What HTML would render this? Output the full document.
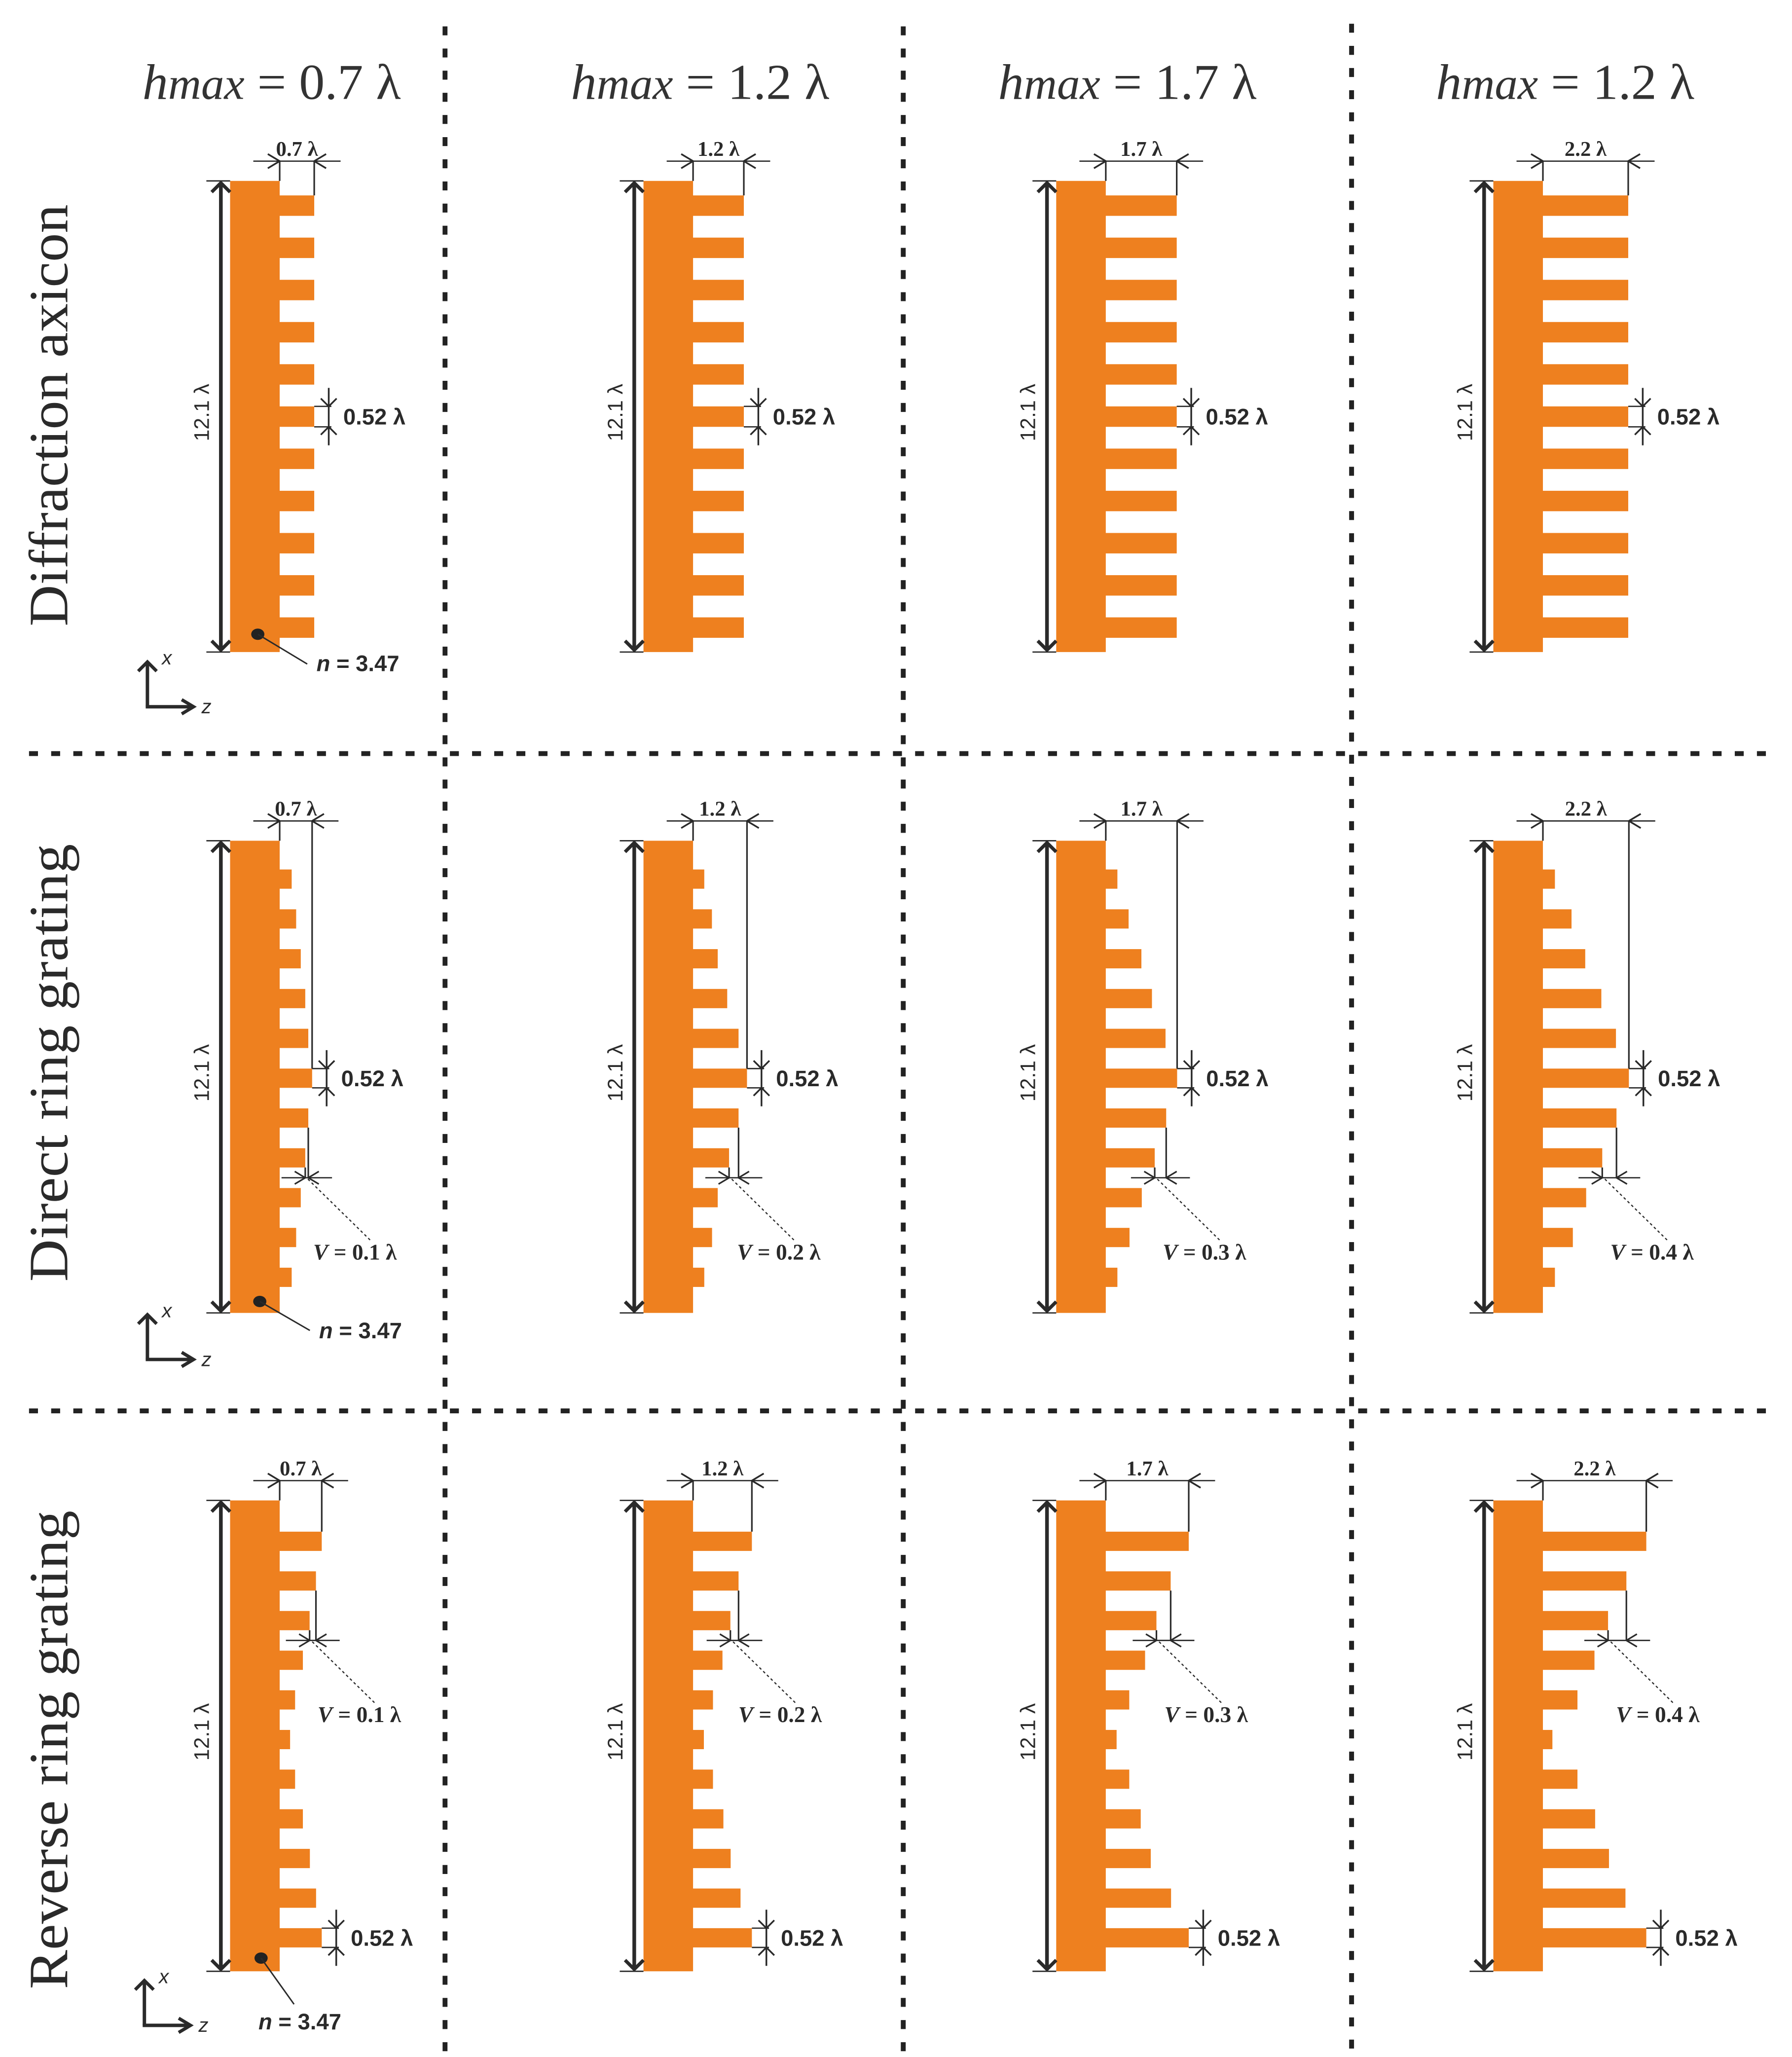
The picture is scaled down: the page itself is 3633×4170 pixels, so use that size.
<!DOCTYPE html>
<html><head><meta charset="utf-8"><style>
html,body{margin:0;padding:0;background:#fff;}
svg{display:block;}
</style></head>
<body>
<svg id="fig" xmlns="http://www.w3.org/2000/svg" width="3633" height="4170" viewBox="0 0 1359 1560" preserveAspectRatio="none">
<rect x="0" y="0" width="1359" height="1560" fill="#fff"/>
</svg>
<script>
// ---- data ----
const rowLabels = ["Diffraction axicon", "Direct ring grating", "Reverse ring grating"];
const headerValues = ["0.7", "1.2", "1.7", "1.2"];
const hmaxLabels = ["0.7 λ", "1.2 λ", "1.7 λ", "2.2 λ"];
const vLabels = ["0.1", "0.2", "0.3", "0.4"];
const heightLabel = "12.1 λ";
const periodLabel = "0.52 λ";
const indexLabel = "3.47";
// tooth lengths (drawing units) per row, per column
const axiconTeeth = [
  [26.2,26.2,26.2,26.2,26.2,26.2,26.2,26.2,26.2,26.2,26.2],
  [38.5,38.5,38.5,38.5,38.5,38.5,38.5,38.5,38.5,38.5,38.5],
  [53.8,53.8,53.8,53.8,53.8,53.8,53.8,53.8,53.8,53.8,53.8],
  [64.7,64.7,64.7,64.7,64.7,64.7,64.7,64.7,64.7,64.7,64.7]
];
const directTeeth = [
  [9.1,12.5,16,19.4,21.7,24.6,21.7,19.4,16,12.5,9.1],
  [8.5,14.3,18.7,25.9,34.5,40.9,34.5,27.3,18.7,14.4,8.5],
  [8.8,17.3,27,35,45.3,54.1,45.8,37.1,27.3,18,8.8],
  [9.1,21.7,32.1,44.3,55.4,65.2,55.8,45,32.8,22.7,9.1]
];
const reverseTeeth = [
  [31.9,27.5,22.7,17.6,11.7,7.9,11.7,17.6,22.9,27.6,31.9],
  [44.6,34.5,28.3,22.3,15.1,8.2,15.1,23,28.5,36,44.6],
  [62.9,49.2,38.4,29.8,17.8,8.2,17.8,26.5,34.1,49.5,62.9],
  [78.4,63.3,49.4,39.1,26.2,7.2,26.2,39.6,50.1,62.6,78.4]
];
const teethData = [axiconTeeth, directTeeth, reverseTeeth];

// ---- layout (not data) ----
const NS = "http://www.w3.org/2000/svg";
const svg = document.getElementById("fig");
const ORANGE = "#ee801f", INK = "#2a2a2a";
const colBaseLeft = [174.5, 488, 801, 1132.5];
const colHeaderX = [206, 531, 855, 1187];
const baseW = 37.6;
const rowLabelLen = [320, 332, 363];
const rows = [
  {top:137.2, bottom:494.5, t0:148.2, per:32.0, th:15.5, mark:5, vPair:null, label:{x:51,y:315}},
  {top:637.6, bottom:995.7, t0:659.4, per:30.2, th:14.6, mark:5, vPair:[6,7], label:{x:51,y:806}},
  {top:1137.9, bottom:1495, t0:1161.6, per:30.07, th:14.6, mark:10, vPair:[1,2], label:{x:51,y:1327}}
];
const zScale = v => v; // tooth length -> px

function el(tag, attrs, parent) {
  const e = document.createElementNS(NS, tag);
  for (const k in attrs) e.setAttribute(k, attrs[k]);
  (parent || svg).appendChild(e);
  return e;
}
function line(x1,y1,x2,y2,w,parent,extra){
  const l = el("line",{x1:x1,y1:y1,x2:x2,y2:y2,stroke:INK,"stroke-width":w},parent);
  if(extra) for(const k in extra) l.setAttribute(k,extra[k]);
  return l;
}
function chevron(x,y,dir,size,w,parent){
  let p;
  const s=size;
  if(dir==='up') p=`M${x-s},${y+s} L${x},${y} L${x+s},${y+s}`;
  if(dir==='down') p=`M${x-s},${y-s} L${x},${y} L${x+s},${y-s}`;
  if(dir==='left') p=`M${x+s},${y-s*0.6} L${x},${y} L${x+s},${y+s*0.6}`;
  if(dir==='right') p=`M${x-s},${y-s*0.6} L${x},${y} L${x-s},${y+s*0.6}`;
  el("path",{d:p,fill:"none",stroke:INK,"stroke-width":w,"stroke-linejoin":"miter"},parent);
}
function text(str,attrs,parent){
  const t = el("text",attrs,parent);
  t.textContent = str;
  return t;
}

// separators
function dotted(x1,y1,x2,y2,dash,name){
  const l = line(x1,y1,x2,y2,3.7,svg,{"stroke-dasharray":dash,stroke:"#222"});
  
  
}
dotted(337.5,20,337.5,1560,"6.8 10","column-separator-1");
dotted(685,20,685,1560,"6.8 10","column-separator-2");
dotted(1025,18,1025,1560,"6.8 10","column-separator-3");
dotted(22,571.5,1340,571.5,"6.8 10","row-separator-1");
dotted(22,1070,1340,1070,"6.8 10","row-separator-2");

// headers
headerValues.forEach((v,c)=>{
  const t = el("text",{x:colHeaderX[c],y:75,"text-anchor":"middle","font-family":"'Liberation Serif',serif","font-size":38,fill:"#333",textLength:196,lengthAdjust:"spacingAndGlyphs"});
  
  
  const a = el("tspan",{"font-style":"italic"},t); a.textContent="h";
  const b = el("tspan",{"font-style":"italic","font-size":34},t); b.textContent="max";
  const d = el("tspan",{},t); d.textContent=" = "+v+" λ";
});

// row labels
rowLabels.forEach((s,r)=>{
  const L = rows[r].label;
  const t = text(s,{x:0,y:0,transform:`translate(${L.x},${L.y}) rotate(-90)`,"text-anchor":"middle","font-family":"'Liberation Serif',serif","font-size":42,fill:"#2a2a2a",textLength:rowLabelLen[r],lengthAdjust:"spacingAndGlyphs"});
  
  
});

// panels
rows.forEach((R,r)=>{
  colBaseLeft.forEach((bx,c)=>{
    const g = el("g",{});
    
    
    const lens = teethData[r][c];
    const br = bx + baseW;
    const base = el("rect",{x:bx,y:R.top,width:baseW,height:R.bottom-R.top,fill:ORANGE},g);
    
    
    const tTop = i => R.t0 + i*R.per;
    lens.forEach((len,i)=>{
      const tooth = el("rect",{x:br-0.5,y:tTop(i),width:zScale(len)+0.5,height:R.th,fill:ORANGE},g);
      
      
    });
    const ax = bx - 7;
    line(bx-18,R.top,bx,R.top,1,g); line(bx-18,R.bottom,bx,R.bottom,1,g);
    line(ax,R.top+2,ax,R.bottom-2,2.8,g);
    chevron(ax,R.top+1.5,'up',7,2.6,g); chevron(ax,R.bottom-1.5,'down',7,2.6,g);
    const hl = text(heightLabel,{x:0,y:0,transform:`translate(${bx-16},${(R.top+R.bottom)/2-3}) rotate(-90)`,"text-anchor":"middle","font-family":"'Liberation Sans',sans-serif","font-size":16,fill:INK},g);
    
    
    let maxI = 0; lens.forEach((v,i)=>{ if(v>lens[maxI]) maxI=i; });
    const hx = br + zScale(lens[maxI]);
    const dimY = R.top - 15;
    line(br,R.top,br,dimY,1.2,g);
    line(hx,tTop(maxI),hx,dimY,1.2,g);
    line(br,dimY,hx,dimY,1,g);
    line(br-20,dimY,br,dimY,1,g); chevron(br,dimY,'right',9,1.3,g);
    line(hx,dimY,hx+20,dimY,1,g); chevron(hx,dimY,'left',9,1.3,g);
    const ht = text(hmaxLabels[c],{x:(br+hx)/2,y:dimY-4,"text-anchor":"middle","font-family":"'Liberation Serif',serif","font-size":16,"font-weight":"bold",fill:INK},g);
    
    
    const mi = R.mark;
    const mEnd = br + zScale(lens[mi]);
    const mx = mEnd + 11;
    const my1 = tTop(mi), my2 = tTop(mi)+R.th;
    line(mEnd,my1,mx+2,my1,1,g); line(mEnd,my2,mx+2,my2,1,g);
    line(mx,my1-14,mx,my2+14,1.3,g);
    chevron(mx,my1,'down',6,1.3,g); chevron(mx,my2,'up',6,1.3,g);
    const pt = text(periodLabel,{x:mEnd+22,y:(my1+my2)/2+6,"font-family":"'Liberation Sans',sans-serif","font-size":17,"font-weight":"bold",fill:INK},g);
    
    
    if(R.vPair){
      const [iL,iS] = R.vPair;
      const lEnd = br + zScale(lens[iL]);
      const sEnd = br + zScale(lens[iS]);
      const ay = tTop(iS)+R.th + (R.per-R.th)/2;
      line(lEnd,tTop(iL)+R.th,lEnd,ay,1.2,g);
      line(sEnd,tTop(iS)+R.th,sEnd,ay,1.2,g);
      line(sEnd-18,ay,lEnd+18,ay,1,g);
      chevron(sEnd,ay,'right',8,1.2,g); chevron(lEnd,ay,'left',8,1.2,g);
      line(sEnd+2,ay+1,sEnd+50,ay+48,0.9,g,{"stroke-dasharray":"2 2"});
      const vt = el("text",{x:sEnd+6,y:ay+62,"font-family":"'Liberation Serif',serif","font-size":17,"font-weight":"bold",fill:INK},g);
      
      
      const a = el("tspan",{"font-style":"italic"},vt); a.textContent="V";
      const b = el("tspan",{},vt); b.textContent=" = "+vLabels[c]+" λ";
    }
    if(c===0){
      let dot, lineEnd, lab, axB;
      if(r===0){ dot=[195.5,481]; lineEnd=[233,503.6]; lab=[240,509]; axB=[111.8,536]; }
      if(r===1){ dot=[197,987]; lineEnd=[235,1009]; lab=[242,1015]; axB=[111.8,1031]; }
      if(r===2){ dot=[198,1485]; lineEnd=[223,1520]; lab=[196,1539]; axB=[109.5,1536]; }
      el("ellipse",{cx:dot[0],cy:dot[1],rx:5,ry:4.3,fill:"#222"},g);
      line(dot[0],dot[1],lineEnd[0],lineEnd[1],1.1,g);
      const nt = el("text",{x:lab[0],y:lab[1],"font-family":"'Liberation Sans',sans-serif","font-size":17,"font-weight":"bold",fill:INK},g);
      
      
      const a = el("tspan",{"font-style":"italic"},nt); a.textContent="n";
      const b = el("tspan",{},nt); b.textContent=" = "+indexLabel;
      const ag = el("g",{},g);
      
      
      line(axB[0],axB[1],axB[0],axB[1]-34,2.6,ag);
      line(axB[0]-1.3,axB[1],axB[0]+34,axB[1],2.6,ag);
      chevron(axB[0],axB[1]-34,'up',7,2.5,ag);
      chevron(axB[0]+35,axB[1],'right',9,2.5,ag);
      text("x",{x:axB[0]+11,y:axB[1]-32,"font-family":"'Liberation Sans',sans-serif","font-size":15,"font-style":"italic",fill:INK},ag);
      text("z",{x:axB[0]+41,y:axB[1]+5,"font-family":"'Liberation Sans',sans-serif","font-size":15,"font-style":"italic",fill:INK},ag);
    }
  });
});
</script>
</body></html>
